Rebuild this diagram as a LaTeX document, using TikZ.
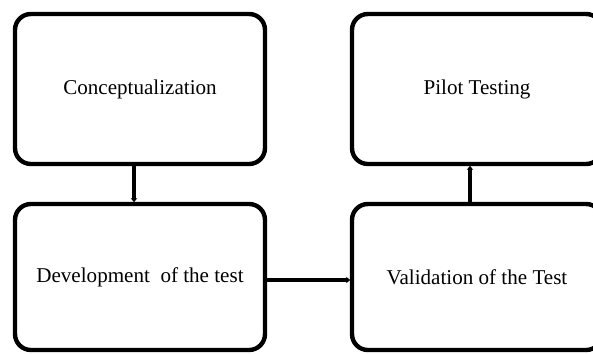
\documentclass[tikz,border=0pt]{standalone}
\usepackage{fontspec}
\setmainfont{Liberation Serif}
\usetikzlibrary{arrows.meta}

\begin{document}
\begin{tikzpicture}[x=0.02cm, y=-0.02cm,
	stage/.style={draw, line width=2.5pt, rounded corners=9pt, minimum width=5cm, inner sep=0pt, font=\fontsize{12}{14}\selectfont},
	link/.style={line width=2pt, shorten >=-0.3pt, -{Latex[length=2.2pt,width=4pt]}}]
	\path[use as bounding box, clip] (0,0) rectangle (593,353);
	\node [stage, minimum height=3cm] (1) at (140,89){Conceptualization};
	\node [stage, minimum height=3cm] (2) at (477,89){Pilot Testing};
	\node [stage, minimum height=2.92cm] (3) at (140,277){Development\ \ of the test};
	\node [stage, minimum height=2.92cm] (4) at (477,277){Validation of the Test};
\draw [link] ([xshift=-0.12cm]1.south) -- ([xshift=-0.12cm]3.north);
\draw [link] ([yshift=-0.06cm]3.east) -- ([yshift=-0.06cm]4.west);
\draw [link] ([xshift=-0.14cm]4.north) -- ([xshift=-0.14cm]2.south);
\end{tikzpicture}
\end{document}
